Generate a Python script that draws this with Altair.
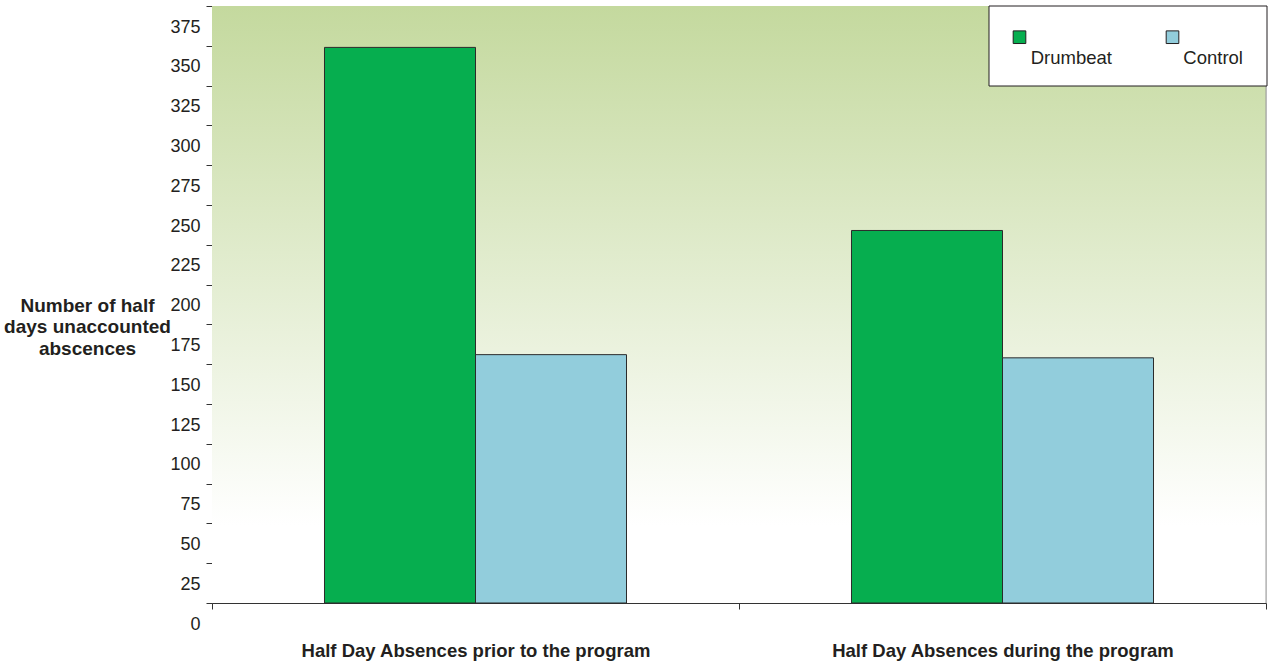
import altair as alt
import pandas as pd

categories = ["Half Day Absences prior to the program", "Half Day Absences during the program"]
series = ["Drumbeat", "Control"]
drumbeat = [349, 234]
control = [156, 154]
colors = ["#06ae4f", "#92cddc"]
y_ticks = list(range(0, 376, 25))

rows = []
for i, c in enumerate(categories):
    rows.append({"category": c, "series": "Drumbeat", "value": drumbeat[i]})
    rows.append({"category": c, "series": "Control", "value": control[i]})
df = pd.DataFrame(rows)

W, H = 1054, 597
FONT = "Liberation Sans"

bg = alt.Chart(pd.DataFrame({"k": [0]})).mark_rect(
    color=alt.LinearGradient(
        gradient="linear",
        stops=[alt.GradientStop(color="#c4d99e", offset=0),
               alt.GradientStop(color="#ffffff", offset=0.87)],
        x1=0, x2=0, y1=0, y2=1,
    )
).encode(x=alt.value(0), x2=alt.value(W), y=alt.value(0), y2=alt.value(H))

right_edge = alt.Chart(pd.DataFrame({"k": [0]})).mark_rule(color="#9a9a9a", strokeWidth=1).encode(
    x=alt.value(W), y=alt.value(0), y2=alt.value(H)
)

bars = alt.Chart(df).mark_bar(stroke="#2b2b2b", strokeWidth=1).encode(
    x=alt.X(
        "category:N", sort=categories,
        scale=alt.Scale(paddingInner=0, paddingOuter=0),
        axis=alt.Axis(
            title=None, labelAngle=0, labelFont=FONT, labelFontSize=18.5, labelFontWeight="bold",
            labelColor="#231f20", labelPadding=47, labelBaseline="alphabetic", labelLimit=0,
            tickBand="extent", tickSize=6, tickColor="#333333", domainColor="#333333",
            grid=False,
        ),
    ),
    xOffset=alt.XOffset("series:N", sort=series, scale=alt.Scale(paddingInner=0, paddingOuter=0.745)),
    y=alt.Y(
        "value:Q",
        scale=alt.Scale(domain=[0, 375], nice=False, zero=True),
        axis=alt.Axis(
            values=y_ticks, grid=False, labelFont=FONT, labelFontSize=18, labelColor="#231f20",
            labelOffset=21, labelPadding=6, tickSize=6, tickColor="#333333", domainColor="#333333",
            title=["Number of half", "days unaccounted", "abscences"],
            titleAngle=0, titleAlign="center", titleBaseline="middle",
            titleX=-125, titleY=299, titleFont=FONT, titleFontSize=19, titleFontWeight="bold",
            titleColor="#231f20", titleLineHeight=21.5,
        ),
    ),
    color=alt.Color("series:N", sort=series, scale=alt.Scale(domain=series, range=colors), legend=None),
)

# legend (decoration)
leg_df = pd.DataFrame({"series": series, "sx": [807.5, 960.5], "tx": [818.7, 971.3]})
leg_box = alt.Chart(pd.DataFrame({"k": [0]})).mark_rect(
    fill="white", stroke="#231f20", strokeWidth=1
).encode(x=alt.value(777), x2=alt.value(1055), y=alt.value(0), y2=alt.value(80))

leg_sym = alt.Chart(leg_df).mark_square(size=160, opacity=1, stroke="#231f20", strokeWidth=1).encode(
    x=alt.X("sx:Q", scale=None),
    y=alt.value(31.2),
    fill=alt.Color("series:N", scale=alt.Scale(domain=series, range=colors), legend=None),
)
leg_txt = alt.Chart(leg_df).mark_text(
    align="left", baseline="alphabetic", font=FONT, fontSize=18.5, color="#231f20"
).encode(x=alt.X("tx:Q", scale=None), y=alt.value(58), text="series:N")

chart = alt.layer(bg, right_edge, bars, leg_box, leg_sym, leg_txt).resolve_scale(
    x="independent", color="shared"
).properties(
    width=W, height=H,
    autosize=alt.AutoSizeParams(type="none"),
    padding={"left": 212, "top": 6, "right": 2, "bottom": 61},
).configure_view(stroke=None).configure(background="white")

chart.save("out.html", embed_options={"renderer": "svg", "actions": False})
